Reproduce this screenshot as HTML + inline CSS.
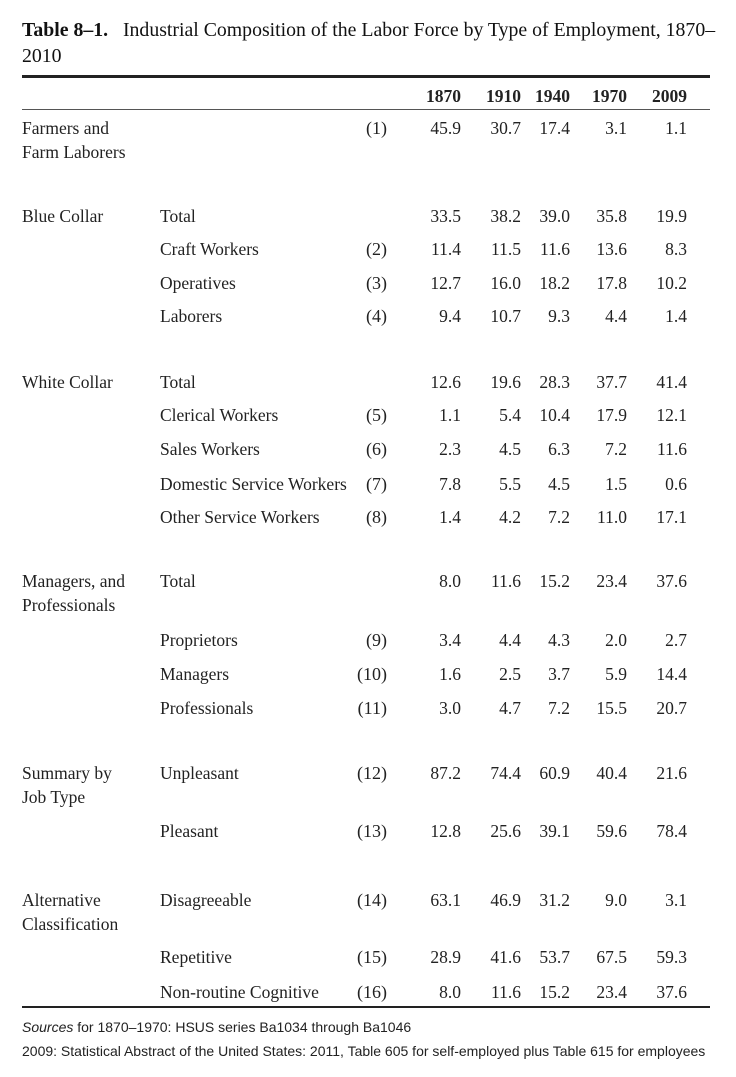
<!DOCTYPE html>
<html><head><meta charset="utf-8"><style>
body{margin:0;width:736px;height:1077px;background:#fff;position:relative;font-family:"Liberation Serif",serif;color:#222;}
.t{position:absolute;font-size:17.5px;line-height:20px;white-space:nowrap;letter-spacing:0px}
.r{text-align:right}
.rule{position:absolute;left:22px;width:688px;background:#222}
</style></head><body>
<div class="t" style="left:22px;top:18px;font-size:19.8px;line-height:24px;letter-spacing:0;color:#111"><b>Table 8–1.</b>&nbsp;&nbsp; Industrial Composition of the Labor Force by Type of Employment, 1870–</div>
<div class="t" style="left:22px;top:44px;font-size:19.8px;line-height:24px;letter-spacing:0;color:#111">2010</div>
<div class="rule" style="top:75px;height:2.5px"></div>
<div class="rule" style="top:109px;height:1px;background:#555"></div>
<div class="rule" style="top:1006px;height:2px"></div>
<div id="rows"></div>
<div class="t" style="left:22px;top:1017px;font-size:14px;font-family:'Liberation Sans',sans-serif;letter-spacing:0"><i>Sources</i> for 1870–1970: HSUS series Ba1034 through Ba1046</div>
<div class="t" style="left:22px;top:1041px;font-size:14px;font-family:'Liberation Sans',sans-serif;letter-spacing:0">2009: Statistical Abstract of the United States: 2011, Table 605 for self-employed plus Table 615 for employees</div>
<script>
var R=[
[97,"","","",["1870","1910","1940","1970","2009"],1],
[129,"Farmers and","","(1)",["45.9","30.7","17.4","3.1","1.1"]],
[153,"Farm Laborers","","",null],
[217,"Blue Collar","Total","",["33.5","38.2","39.0","35.8","19.9"]],
[250,"","Craft Workers","(2)",["11.4","11.5","11.6","13.6","8.3"]],
[284,"","Operatives","(3)",["12.7","16.0","18.2","17.8","10.2"]],
[317,"","Laborers","(4)",["9.4","10.7","9.3","4.4","1.4"]],
[383,"White Collar","Total","",["12.6","19.6","28.3","37.7","41.4"]],
[416,"","Clerical Workers","(5)",["1.1","5.4","10.4","17.9","12.1"]],
[450,"","Sales Workers","(6)",["2.3","4.5","6.3","7.2","11.6"]],
[485,"","Domestic Service Workers","(7)",["7.8","5.5","4.5","1.5","0.6"]],
[518,"","Other Service Workers","(8)",["1.4","4.2","7.2","11.0","17.1"]],
[582,"Managers, and","Total","",["8.0","11.6","15.2","23.4","37.6"]],
[606,"Professionals","","",null],
[641,"","Proprietors","(9)",["3.4","4.4","4.3","2.0","2.7"]],
[675,"","Managers","(10)",["1.6","2.5","3.7","5.9","14.4"]],
[709,"","Professionals","(11)",["3.0","4.7","7.2","15.5","20.7"]],
[774,"Summary by","Unpleasant","(12)",["87.2","74.4","60.9","40.4","21.6"]],
[798,"Job Type","","",null],
[832,"","Pleasant","(13)",["12.8","25.6","39.1","59.6","78.4"]],
[901,"Alternative","Disagreeable","(14)",["63.1","46.9","31.2","9.0","3.1"]],
[925,"Classification","","",null],
[958,"","Repetitive","(15)",["28.9","41.6","53.7","67.5","59.3"]],
[993,"","Non-routine Cognitive","(16)",["8.0","11.6","15.2","23.4","37.6"]]];
var X=[461,521,570,627,687],h="";
R.forEach(function(r){var top=r[0]-11;
if(r[1])h+='<div class="t" style="left:22px;top:'+top+'px">'+r[1]+'</div>';
if(r[2])h+='<div class="t" style="left:160px;top:'+top+'px">'+r[2]+'</div>';
if(r[3])h+='<div class="t r" style="right:'+(736-387)+'px;top:'+top+'px;font-size:18px">'+r[3]+'</div>';
if(r[4])r[4].forEach(function(v,i){h+='<div class="t r" style="right:'+(736-X[i])+'px;top:'+top+'px'+(r[5]?';font-weight:bold':'')+'">'+v+'</div>';});
});
document.getElementById('rows').innerHTML=h;
</script>
</body></html>
